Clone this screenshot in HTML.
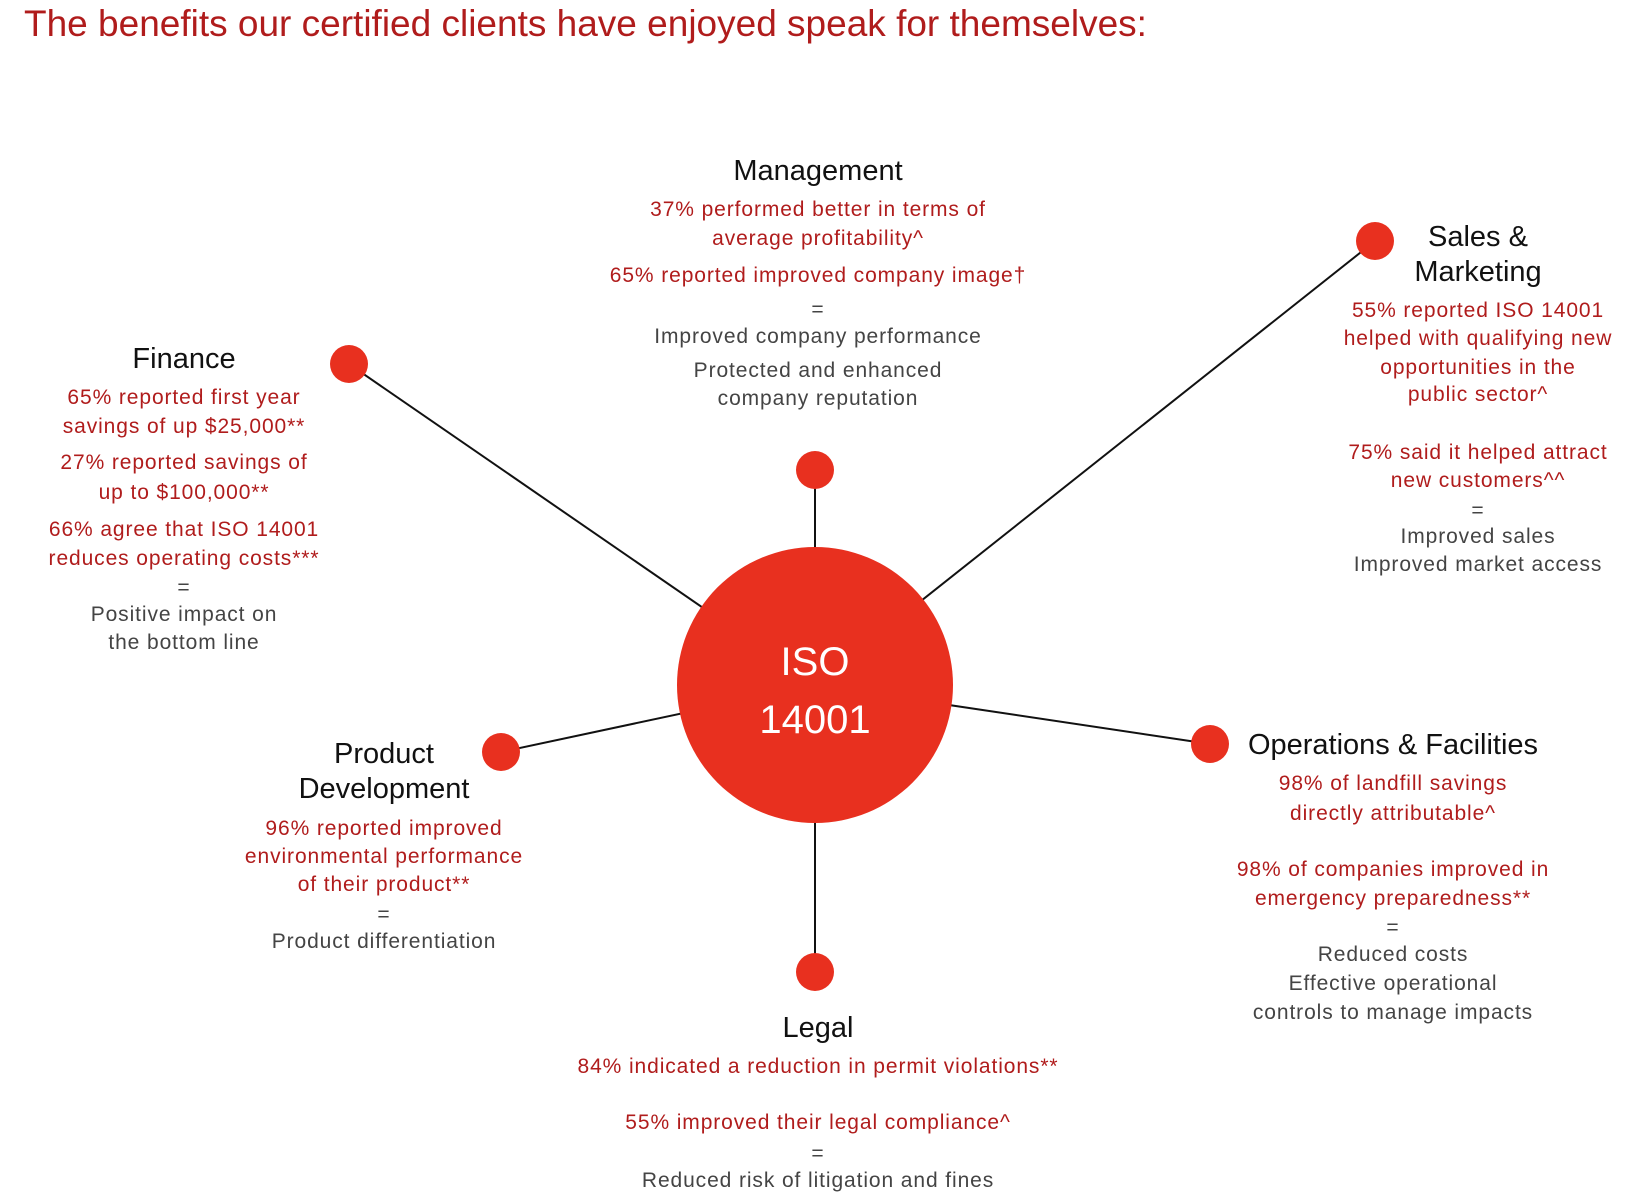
<!DOCTYPE html>
<html><head><meta charset="utf-8"><style>
html,body{margin:0;padding:0;background:#fff;width:1642px;height:1193px;overflow:hidden}
svg{display:block}
.h{font-family:"Liberation Sans",sans-serif;font-size:29px;fill:#111;text-anchor:middle}
.r{font-family:"Liberation Sans",sans-serif;font-size:21px;letter-spacing:0.9px;fill:#b01c1c;text-anchor:middle}
.g{font-family:"Liberation Sans",sans-serif;font-size:21px;letter-spacing:0.9px;fill:#444;text-anchor:middle}
</style></head><body>
<svg width="1642" height="1193" viewBox="0 0 1642 1193">
<text x="24" y="36" font-family="Liberation Sans, sans-serif" font-size="37" fill="#b01c1c">The benefits our certified clients have enjoyed speak for themselves:</text>
<g stroke="#111" stroke-width="2">
<line x1="815" y1="685" x2="815" y2="470"/>
<line x1="815" y1="685" x2="349" y2="364"/>
<line x1="815" y1="685" x2="1375" y2="241"/>
<line x1="815" y1="685" x2="501" y2="752"/>
<line x1="815" y1="685" x2="1210" y2="744"/>
<line x1="815" y1="685" x2="815" y2="972"/>
</g>
<g fill="#e8301f">
<circle cx="815" cy="470" r="19"/><circle cx="349" cy="364" r="19"/><circle cx="1375" cy="241" r="19"/>
<circle cx="501" cy="752" r="19"/><circle cx="1210" cy="744" r="19"/><circle cx="815" cy="972" r="19"/>
<circle cx="815" cy="685" r="138"/>
</g>
<text x="815" y="675" font-family="Liberation Sans, sans-serif" font-size="40" fill="#fff" text-anchor="middle">ISO</text>
<text x="815" y="733" font-family="Liberation Sans, sans-serif" font-size="40" fill="#fff" text-anchor="middle">14001</text>

<g transform="translate(0,-4)">
<text class="h" x="818" y="184">Management</text>
<text class="r" x="818" y="220">37% performed better in terms of</text>
<text class="r" x="818" y="249">average profitability^</text>
<text class="r" x="818" y="286">65% reported improved company image†</text>
<text class="g" x="818" y="320">=</text>
<text class="g" x="818" y="347">Improved company performance</text>
<text class="g" x="818" y="381">Protected and enhanced</text>
<text class="g" x="818" y="409">company reputation</text>

<text class="h" x="184" y="372">Finance</text>
<text class="r" x="184" y="408">65% reported first year</text>
<text class="r" x="184" y="437">savings of up $25,000**</text>
<text class="r" x="184" y="473">27% reported savings of</text>
<text class="r" x="184" y="503">up to $100,000**</text>
<text class="r" x="184" y="540">66% agree that ISO 14001</text>
<text class="r" x="184" y="569">reduces operating costs***</text>
<text class="g" x="184" y="598">=</text>
<text class="g" x="184" y="625">Positive impact on</text>
<text class="g" x="184" y="653">the bottom line</text>

<text class="h" x="1478" y="250">Sales &amp;</text>
<text class="h" x="1478" y="285">Marketing</text>
<text class="r" x="1478" y="321">55% reported ISO 14001</text>
<text class="r" x="1478" y="349">helped with qualifying new</text>
<text class="r" x="1478" y="378">opportunities in the</text>
<text class="r" x="1478" y="405">public sector^</text>
<text class="r" x="1478" y="463">75% said it helped attract</text>
<text class="r" x="1478" y="491">new customers^^</text>
<text class="g" x="1478" y="521">=</text>
<text class="g" x="1478" y="547">Improved sales</text>
<text class="g" x="1478" y="575">Improved market access</text>

<text class="h" x="384" y="767">Product</text>
<text class="h" x="384" y="802">Development</text>
<text class="r" x="384" y="839">96% reported improved</text>
<text class="r" x="384" y="867">environmental performance</text>
<text class="r" x="384" y="895">of their product**</text>
<text class="g" x="384" y="925">=</text>
<text class="g" x="384" y="952">Product differentiation</text>

<text class="h" x="1393" y="758">Operations &amp; Facilities</text>
<text class="r" x="1393" y="794">98% of landfill savings</text>
<text class="r" x="1393" y="824">directly attributable^</text>
<text class="r" x="1393" y="880">98% of companies improved in</text>
<text class="r" x="1393" y="909">emergency preparedness**</text>
<text class="g" x="1393" y="938">=</text>
<text class="g" x="1393" y="965">Reduced costs</text>
<text class="g" x="1393" y="994">Effective operational</text>
<text class="g" x="1393" y="1023">controls to manage impacts</text>

<text class="h" x="818" y="1041">Legal</text>
<text class="r" x="818" y="1077">84% indicated a reduction in permit violations**</text>
<text class="r" x="818" y="1133">55% improved their legal compliance^</text>
<text class="g" x="818" y="1164">=</text>
<text class="g" x="818" y="1191">Reduced risk of litigation and fines</text>
</g>
</svg>
</body></html>
